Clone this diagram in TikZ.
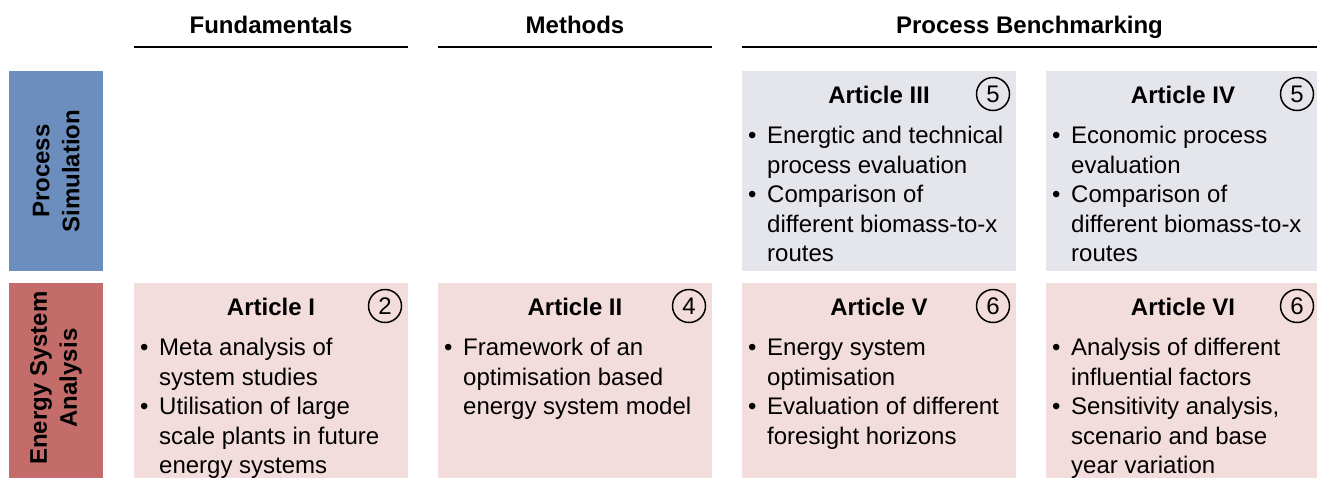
\documentclass[tikz,border=0pt]{standalone}
\usepackage{fontspec}
\setmainfont{Liberation Sans}
\definecolor{simblue}{RGB}{108,142,191}
\definecolor{esared}{RGB}{196,108,105}
\definecolor{esapink}{RGB}{242,221,220}
\definecolor{simgrey}{RGB}{229,230,235}
% bullet line and continuation line inside a card
\newcommand\bitem[1]{\makebox[19pt][l]{\textbullet}#1}
\newcommand\cont[1]{\hspace*{19pt}#1}
\begin{document}
\begin{tikzpicture}[x=1pt,y=-1pt,
  hdr/.style={font=\bfseries\fontsize{24}{29}\selectfont, anchor=base, inner sep=0pt},
  headrule/.style={line width=2pt},
  side/.style={anchor=north west, minimum width=94pt, inner sep=0pt},
  sidetext/.style={rotate=90, align=center, font=\bfseries\fontsize{24}{30}\selectfont, inner sep=0pt},
  card/.style={anchor=north west, minimum width=274pt, inner sep=0pt},
  simcard/.style={card, fill=simgrey, minimum height=200pt},
  esacard/.style={card, fill=esapink, minimum height=230pt},
  ttl/.style={font=\bfseries\fontsize{24}{29}\selectfont, anchor=base, inner sep=0pt},
  num/.style={circle, draw, line width=1.5pt, minimum size=33pt, inner sep=0pt, font=\fontsize{24}{29}\selectfont},
  % the base anchor of a multi-line node sits on its last baseline
  body/.style={font=\fontsize{24}{29.5}\selectfont, align=left, anchor=base west, inner sep=0pt}
]
\clip (0,0) rectangle (1317,477);

% column headings
\node[hdr] (hF) at (271,33.5) {Fundamentals};
\node[hdr] (hM) at (575,33.5) {Methods};
\node[hdr] (hP) at (1029.5,33.5) {Process Benchmarking};
\draw[headrule] (134,46.5) -- (408,46.5);
\draw[headrule] (438,46.5) -- (712,46.5);
\draw[headrule] (742,46.5) -- (1320,46.5);

% row labels
\node[side, fill=simblue, minimum height=200pt] (sPS) at (9,71) {};
\node[sidetext] (tPS) at (sPS.center) {Process\\Simulation};
\node[side, fill=esared, minimum height=200pt] (sESA) at (9,283) {};
\node[sidetext] (tESA) at (56,378) {Energy System\\Analysis};

% process simulation row
\node[simcard] (c3) at (742,71) {};
\node[ttl] (t3) at (879,103.5) {Article III};
\node[num] (n3) at (993,94) {5};
\node[body] (b3) at (748,261.5) {\bitem{Energtic and technical}\\\cont{process evaluation}\\\bitem{Comparison of}\\\cont{different biomass-to-x}\\\cont{routes}};

\node[simcard] (c4) at (1046,71) {};
\node[ttl] (t4) at (1183,103.5) {Article IV};
\node[num] (n4) at (1297,94) {5};
\node[body] (b4) at (1052,261.5) {\bitem{Economic process}\\\cont{evaluation}\\\bitem{Comparison of}\\\cont{different biomass-to-x}\\\cont{routes}};

% energy system analysis row
\node[esacard] (c1) at (134,283) {};
\node[ttl] (t1) at (271,315.5) {Article I};
\node[num] (n1) at (385,306) {2};
\node[body] (b1) at (140,473.5) {\bitem{Meta analysis of}\\\cont{system studies}\\\bitem{Utilisation of large}\\\cont{scale plants in future}\\\cont{energy systems}};

\node[esacard] (c2) at (438,283) {};
\node[ttl] (t2) at (575,315.5) {Article II};
\node[num] (n2) at (689,306) {4};
\node[body] (b2) at (444,414.5) {\bitem{Framework of an}\\\cont{optimisation based}\\\cont{energy system model}};

\node[esacard] (c5) at (742,283) {};
\node[ttl] (t5) at (879,315.5) {Article V};
\node[num] (n5) at (993,306) {6};
\node[body] (b5) at (748,444) {\bitem{Energy system}\\\cont{optimisation}\\\bitem{Evaluation of different}\\\cont{foresight horizons}};

\node[esacard] (c6) at (1046,283) {};
\node[ttl] (t6) at (1183,315.5) {Article VI};
\node[num] (n6) at (1297,306) {6};
\node[body] (b6) at (1052,473.5) {\bitem{Analysis of different}\\\cont{influential factors}\\\bitem{Sensitivity analysis,}\\\cont{scenario and base}\\\cont{year variation}};
\end{tikzpicture}
\end{document}
